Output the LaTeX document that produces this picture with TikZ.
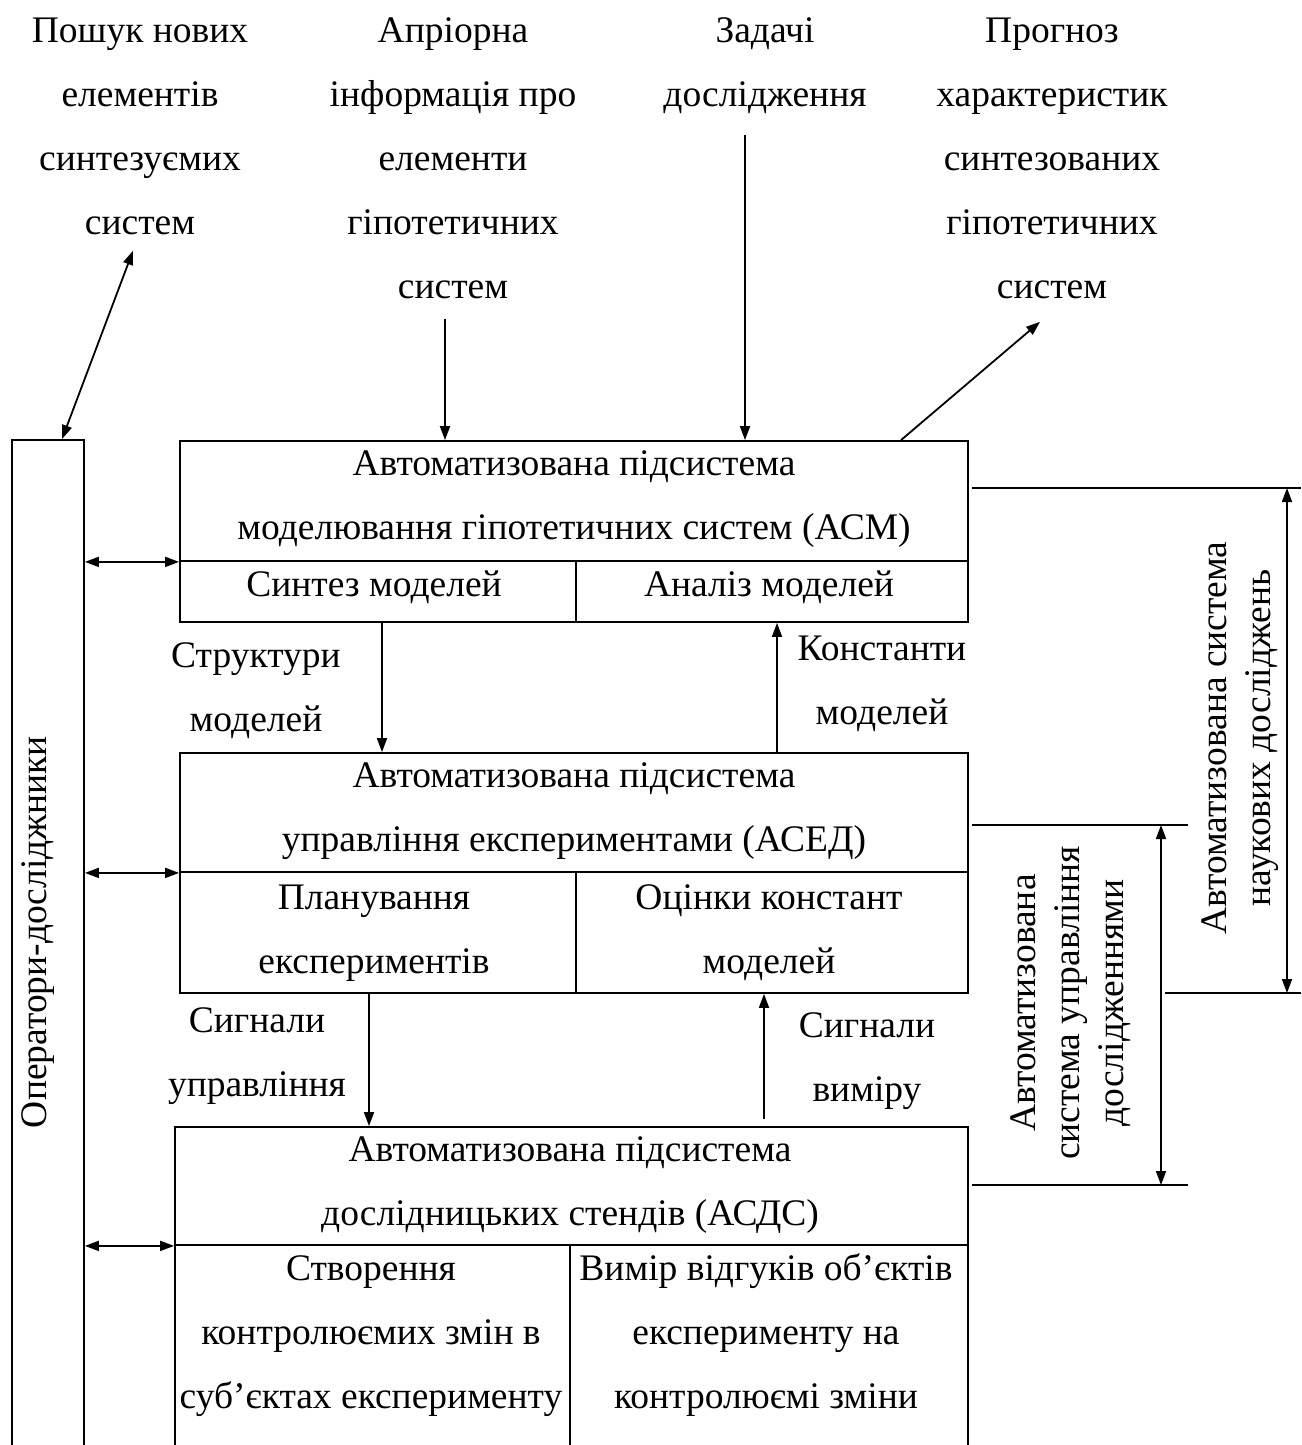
\documentclass[tikz,border=0pt]{standalone}
\usepackage{fontspec}
\setmainfont{Liberation Serif}
\usetikzlibrary{arrows.meta,fit}
\begin{document}
\begin{tikzpicture}[x=0.5pt,y=-0.5pt,
  line width=0.9pt,
  txt/.style={anchor=north,inner sep=0pt,align=center,font=\fontsize{18.75}{32}\selectfont},
  rot/.style={inner sep=0pt,align=center,rotate=90,font=\fontsize{18.75}{22}\selectfont},
  box/.style={draw,inner sep=0pt},
  arr/.style={-{Triangle[length=7pt,width=5pt]}},
  dbl/.style={{Triangle[length=7pt,width=5pt]}-{Triangle[length=7pt,width=5pt]}}]
\useasboundingbox (0,0) rectangle (1301,1445);
\fill[white] (0,0) rectangle (1301,1445);
\clip (0,0) rectangle (1301,1445);

% top texts
\node[txt] (t1) at (140,-3) {\strut Пошук нових\\\strut елементів\\\strut синтезуємих\\\strut систем};
\node[txt] (t2) at (453,-3) {\strut Апріорна\\\strut інформація про\\\strut елементи\\\strut гіпотетичних\\\strut систем};
\node[txt] (t3) at (765,-3) {\strut Задачі\\\strut дослідження};
\node[txt] (t4) at (1052,-3) {\strut Прогноз\\\strut характеристик\\\strut синтезованих\\\strut гіпотетичних\\\strut систем};

% operator column
\node[box,fit={(12,440) (84,1470)}] (opcol) {};
\node[rot] (oplab) at (38,932) {Оператори-досліджники};

% ASM
\node[box,fit={(180,441) (968,561)}] (asmh) {};
\node[box,fit={(180,561) (576,622)}] (asm1) {};
\node[box,fit={(576,561) (968,622)}] (asm2) {};
\node[txt] (asmt) at (574,430) {\strut Автоматизована підсистема\\\strut моделювання гіпотетичних систем (АСМ)};
\node[txt] (asm1t) at (374,551) {\strut Синтез моделей};
\node[txt] (asm2t) at (769,551) {\strut Аналіз моделей};

% ASED
\node[box,fit={(180,753) (968,872)}] (asedh) {};
\node[box,fit={(180,872) (576,993)}] (ased1) {};
\node[box,fit={(576,872) (968,993)}] (ased2) {};
\node[txt] (asedt) at (574,742) {\strut Автоматизована підсистема\\\strut управління експериментами (АСЕД)};
\node[txt] (ased1t) at (374,864) {\strut Планування\\\strut експериментів};
\node[txt] (ased2t) at (769,864) {\strut Оцінки констант\\\strut моделей};

% ASDS
\node[box,fit={(175,1127) (968,1245)}] (asdsh) {};
\node[box,fit={(175,1245) (570,1470)}] (asds1) {};
\node[box,fit={(570,1245) (968,1470)}] (asds2) {};
\node[txt] (asdst) at (570,1116) {\strut Автоматизована підсистема\\\strut дослідницьких стендів (АСДС)};
\node[txt] (asds1t) at (371,1235) {\strut Створення\\\strut контролюємих змін в\\\strut суб’єктах експерименту};
\node[txt] (asds2t) at (766,1235) {\strut Вимір відгуків об’єктів\\\strut експерименту на\\\strut контролюємі зміни};

% flow labels
\node[txt] (lS) at (256,622) {\strut Структури\\\strut моделей};
\node[txt] (lK) at (882,615) {\strut Константи\\\strut моделей};
\node[txt] (lU) at (257,987) {\strut Сигнали\\\strut управління};
\node[txt] (lV) at (867,992) {\strut Сигнали\\\strut виміру};

% x positions of vertical connectors
\coordinate (xA) at (445,0);
\coordinate (xZ) at (745,0);
\coordinate (xP) at (901,0);
\coordinate (xS) at (382,0);
\coordinate (xK) at (777,0);
\coordinate (xU) at (369,0);
\coordinate (xV) at (764,0);

% top connectors
\draw[dbl] ([shift={(-7,-4)}]t1.south) -- ([shift={(14,0)}]opcol.north);
\draw[arr] (t2.south -| xA) -- (asmh.north -| xA);
\draw[arr] ([shift={(0,8)}]t3.south -| xZ) -- (asmh.north -| xZ);
\draw[arr] (asmh.north -| xP) -- ([shift={(-12,3)}]t4.south);

% between boxes
\draw[arr] (asm1.south -| xS) -- (asedh.north -| xS);
\draw[arr] (asedh.north -| xK) -- (asm2.south -| xK);
\draw[arr] (ased1.south -| xU) -- (asdsh.north -| xU);
\draw[arr] ([shift={(0,-7)}]asdsh.north -| xV) -- (ased2.south -| xV);

% operators <-> subsystems
\draw[dbl] (opcol.east |- asmh.south west) -- (asmh.south west);
\draw[dbl] (opcol.east |- asedh.south west) -- (asedh.south west);
\draw[dbl] (opcol.east |- asdsh.south west) -- (asdsh.south west);

% right brackets
\coordinate (ra1) at (972,488);
\coordinate (ra2) at (1301,488);
\coordinate (rb1) at (1165,993);
\coordinate (rb2) at (1301,993);
\coordinate (va1) at (1287,488);
\coordinate (va2) at (1287,993);
\draw (ra1) -- (ra2);
\draw (rb1) -- (rb2);
\draw[dbl] (va1) -- (va2);

\coordinate (rc1) at (972,825);
\coordinate (rc2) at (1188,825);
\coordinate (rd1) at (972,1185);
\coordinate (rd2) at (1188,1185);
\coordinate (vb1) at (1161,825);
\coordinate (vb2) at (1161,1185);
\draw (rc1) -- (rc2);
\draw (rd1) -- (rd2);
\draw[dbl] (vb1) -- (vb2);

\node[rot] (lab1) at (1240,738) {Автоматизована система\\наукових досліджень};
\node[rot] (lab2) at (1071,1003) {Автоматизована\\система управління\\дослідженнями};
\end{tikzpicture}
\end{document}
